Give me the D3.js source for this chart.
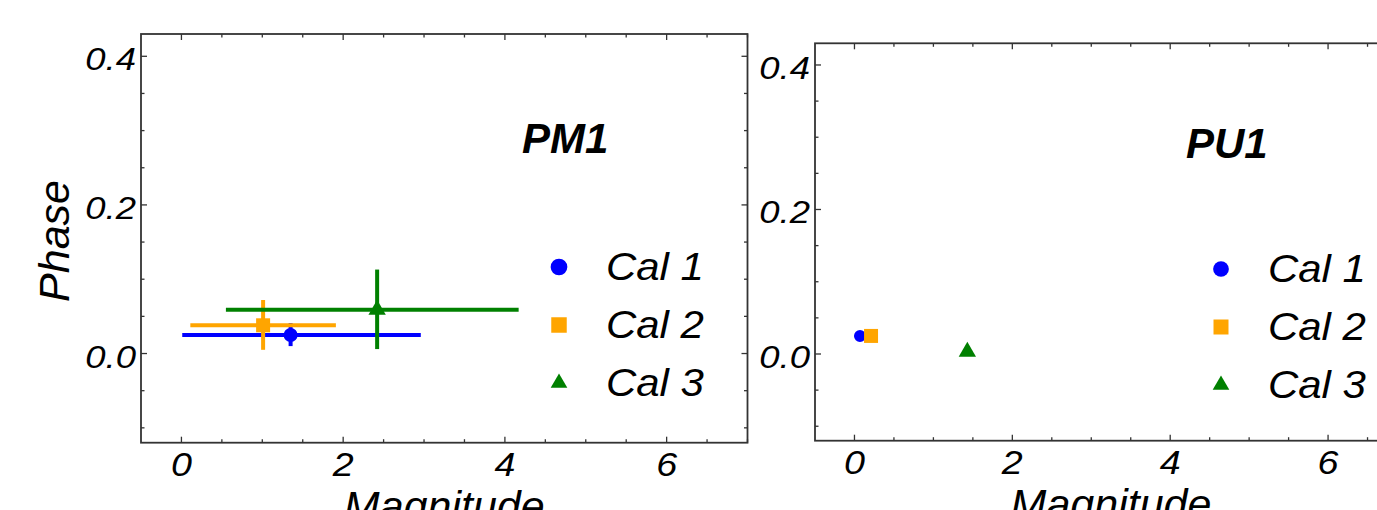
<!DOCTYPE html>
<html>
<head>
<meta charset="utf-8">
<script src="https://cdn.jsdelivr.net/npm/d3@7"></script>
<style>
  body { margin: 0; background: #fff; }
  svg text { font-family: "Liberation Sans", Arial, sans-serif; font-style: italic; fill: #000; }
</style>
</head>
<body>
<div id="canvas"></div>
<script>
// data
var calNames = ['Cal 1', 'Cal 2', 'Cal 3'];
var calColors = ['#0000ff', '#ffa500', '#008000'];

// PM1 panel: marker position + error bar ends
var pm1Mag     = [1.35, 1.01, 2.42];
var pm1MagLo   = [0.01, 0.11, 0.55];
var pm1MagHi   = [2.96, 1.91, 4.17];
var pm1Phase   = [0.025, 0.038, 0.059];
var pm1PhaseLo = [0.010, 0.005, 0.006];
var pm1PhaseHi = [0.041, 0.072, 0.113];

// PU1 panel: no error bars
var pu1Mag   = [0.07, 0.21, 1.43];
var pu1Phase = [0.025, 0.025, 0.003];

var xTickLabels = [0, 2, 4, 6];
var yTickLabels = [0.0, 0.2, 0.4];

var W = 1377, H = 510;
var svg = d3.select('#canvas').append('svg')
    .attr('width', W).attr('height', H);

var symbols = [d3.symbolCircle, d3.symbolSquare, d3.symbolTriangle];

// the tick / legend text in the picture is a bit wider than Liberation, so stretch it sideways
function wideText(sel, tx, ty, sx) {
  return sel.append('text')
    .attr('transform', 'translate(' + tx + ',' + ty + ') scale(' + sx + ',1)');
}

function drawPanel(p) {
  var x = d3.scaleLinear().domain([-0.5, 7]).range([p.x0, p.x1]);
  var y = d3.scaleLinear().domain([-0.12, 0.43]).range([p.y1, p.y0]);
  var g = svg.append('g');

  var minorX = d3.range(0, 7.01, 0.5);
  var minorY = d3.range(-0.1, 0.401, 0.05);
  var isMajorX = function(v){ return xTickLabels.indexOf(Math.round(v * 10) / 10) >= 0; };
  var isMajorY = function(v){ return yTickLabels.some(function(t){ return Math.abs(t - v) < 1e-6; }); };

  // inward ticks on all four sides
  var ticks = g.append('g').attr('stroke', '#333').attr('stroke-width', 1.3);
  minorX.forEach(function(v){
    var len = isMajorX(v) ? 6 : 3.5;
    ticks.append('line').attr('x1', x(v)).attr('x2', x(v)).attr('y1', p.y1).attr('y2', p.y1 - len);
    ticks.append('line').attr('x1', x(v)).attr('x2', x(v)).attr('y1', p.y0).attr('y2', p.y0 + len);
  });
  minorY.forEach(function(v){
    var len = isMajorY(v) ? 6 : 3.5;
    ticks.append('line').attr('x1', p.x0).attr('x2', p.x0 + len).attr('y1', y(v)).attr('y2', y(v));
    ticks.append('line').attr('x1', p.x1).attr('x2', p.x1 - len).attr('y1', y(v)).attr('y2', y(v));
  });

  g.append('rect')
    .attr('x', p.x0).attr('y', p.y0)
    .attr('width', p.x1 - p.x0).attr('height', p.y1 - p.y0)
    .attr('fill', 'none').attr('stroke', '#333').attr('stroke-width', 1.8);

  // tick labels
  xTickLabels.forEach(function(d){
    wideText(g, x(d), p.y1 + 33, 1.14)
      .attr('text-anchor', 'middle')
      .style('font-size', '33px')
      .text(d);
  });
  yTickLabels.forEach(function(d){
    wideText(g, p.x0 - 5, y(d) + 14, 1.14)
      .attr('text-anchor', 'end')
      .style('font-size', '32px')
      .text(d.toFixed(1));
  });

  // axis titles
  g.append('text')
    .attr('x', (p.x0 + p.x1) / 2).attr('y', p.y1 + 78)
    .attr('text-anchor', 'middle')
    .style('font-size', '43px')
    .text('Magnitude');
  if (p.yTitle) {
    g.append('text')
      .attr('transform', 'translate(69,241) rotate(-90)')
      .attr('text-anchor', 'middle')
      .style('font-size', '43px')
      .text('Phase');
  }

  // panel label
  g.append('text')
    .attr('x', p.titleX).attr('y', p.titleY)
    .style('font-size', '42px').style('font-weight', 'bold')
    .text(p.title);

  // error bars
  if (p.err) {
    calNames.forEach(function(n, i){
      var eg = g.append('g').attr('stroke', calColors[i]).attr('stroke-width', 4);
      eg.append('line')
        .attr('x1', x(p.err.xlo[i])).attr('x2', x(p.err.xhi[i]))
        .attr('y1', y(p.ys[i])).attr('y2', y(p.ys[i]));
      eg.append('line')
        .attr('x1', x(p.xs[i])).attr('x2', x(p.xs[i]))
        .attr('y1', y(p.err.ylo[i])).attr('y2', y(p.err.yhi[i]));
    });
  }

  // markers
  calNames.forEach(function(n, i){
    g.append('path')
      .attr('d', d3.symbol().type(symbols[i]).size(p.markerSize[i])())
      .attr('transform', 'translate(' + x(p.xs[i]) + ',' + y(p.ys[i]) + ')')
      .attr('fill', calColors[i]);
  });

  // legend
  calNames.forEach(function(n, i){
    var ly = p.legY + i * 58;
    g.append('path')
      .attr('d', d3.symbol().type(symbols[i]).size(p.legSize[i])())
      .attr('transform', 'translate(' + p.legX + ',' + ly + ')')
      .attr('fill', calColors[i]);
    wideText(g, p.legX + 47, ly + 13, 1.09)
      .style('font-size', '38.5px')
      .text(n);
  });
}

drawPanel({
  x0: 141, x1: 747.5, y0: 34, y1: 442.7,
  xs: pm1Mag, ys: pm1Phase,
  err: { xlo: pm1MagLo, xhi: pm1MagHi, ylo: pm1PhaseLo, yhi: pm1PhaseHi },
  markerSize: [154, 196, 130],
  legX: 559, legY: 267, legSize: [219, 240, 120],
  title: 'PM1', titleX: 522, titleY: 153,
  yTitle: true
});

drawPanel({
  x0: 815, x1: 1407, y0: 43.3, y1: 440.7,
  xs: pu1Mag, ys: pu1Phase,
  err: null,
  markerSize: [113, 196, 130],
  legX: 1221, legY: 269, legSize: [194, 225, 120],
  title: 'PU1', titleX: 1186, titleY: 158,
  yTitle: false
});
</script>
</body>
</html>
